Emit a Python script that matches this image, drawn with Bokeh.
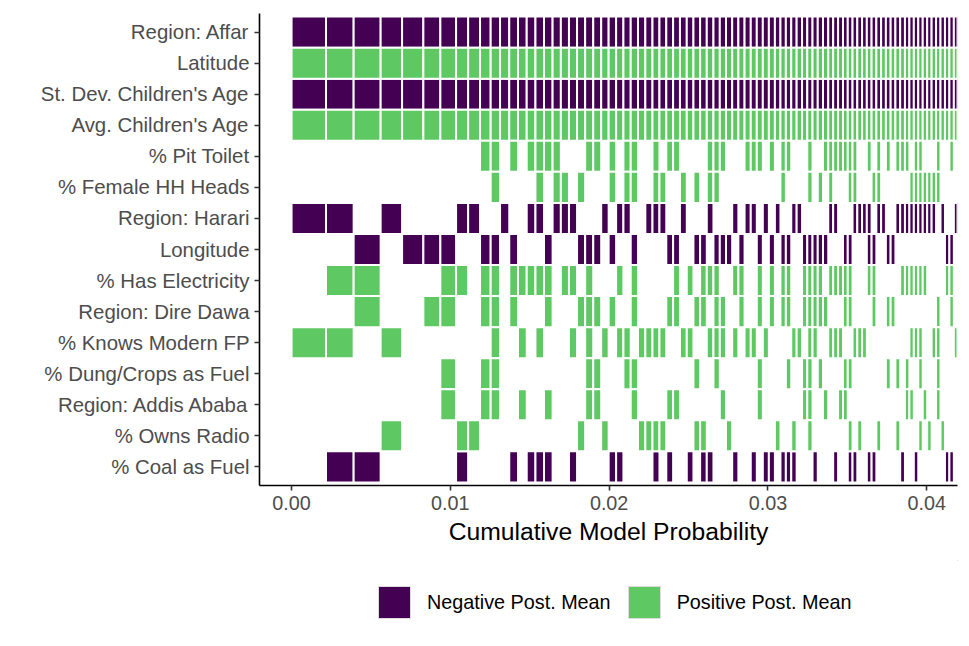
import numpy as np
from bokeh.plotting import figure
from bokeh.layouts import column
from bokeh.models import (ColumnDataSource, FactorRange, Range1d, FixedTicker,
                          NumeralTickFormatter, Legend, LegendItem)
from bokeh.embed import file_html
from bokeh.resources import INLINE

# ---------------- data ----------------
variables = ["Region: Affar", "Latitude", "St. Dev. Children's Age", "Avg. Children's Age",
             "% Pit Toilet", "% Female HH Heads", "Region: Harari", "Longitude",
             "% Has Electricity", "Region: Dire Dawa", "% Knows Modern FP",
             "% Dung/Crops as Fuel", "Region: Addis Ababa", "% Owns Radio", "% Coal as Fuel"]
post_mean_sign = [-1, 1, -1, 1, 1, 1, -1, -1, 1, 1, 1, 1, 1, 1, -1]

# posterior model probabilities, best model first
model_prob = [0.00217, 0.00174, 0.00170, 0.00135, 0.00134, 0.00107, 0.00099, 0.00076,
              0.00075, 0.00067, 0.00059, 0.00058,
              0.00055, 0.00055, 0.00055, 0.00054, 0.00054,
              0.00052, 0.00051, 0.00051, 0.00051, 0.00051, 0.00050,
              0.00047, 0.00047, 0.00046, 0.00046, 0.00046, 0.00046, 0.00045,
              0.00044, 0.00043, 0.00043, 0.00043, 0.00043, 0.00042, 0.00042, 0.00042, 0.00042,
              0.00040, 0.00039, 0.00039, 0.00039, 0.00039, 0.00039, 0.00038, 0.00038, 0.00038, 0.00038,
              0.00035, 0.00034, 0.00034, 0.00034, 0.00034, 0.00033, 0.00033, 0.00033, 0.00033, 0.00033,
              0.00031, 0.00031, 0.00031, 0.00030, 0.00030, 0.00030, 0.00030, 0.00030,
              0.00030, 0.00030, 0.00030, 0.00030, 0.00030, 0.00030, 0.00030, 0.00030,
              0.00028, 0.00028, 0.00028, 0.00028, 0.00028, 0.00028, 0.00028, 0.00028,
              0.00028, 0.00028, 0.00028, 0.00028]

# variables in every model
always_included = ["Region: Affar", "Latitude", "St. Dev. Children's Age", "Avg. Children's Age"]

# model numbers (1 = best) that include each remaining variable
incl_pit_toilet = [10, 11, 13, 15, 16, 17, 18, 22, 23, 25, 27, 28, 31, 33, 34, 39, 40, 41, 45, 46,
                   47, 49, 51, 52, 56, 59, 60, 61, 62, 63, 64, 65, 68, 70, 72, 74, 75, 76, 78, 79,
                   83, 86]
incl_female_hh = [11, 16, 18, 19, 21, 25, 27, 28, 31, 32, 35, 37, 39, 40, 51, 56, 58, 60, 64, 65,
                  69, 70, 77, 78, 79, 80, 81, 82, 83]
incl_harari = [1, 2, 4, 8, 9, 12, 15, 16, 18, 19, 20, 24, 26, 27, 30, 31, 32, 35, 39, 43, 45, 46,
               48, 50, 53, 54, 60, 61, 65, 66, 67, 68, 70, 71, 74, 75, 76, 77, 78, 79, 80, 81, 82,
               84, 87]
incl_longitude = [3, 5, 6, 7, 10, 11, 13, 17, 21, 22, 23, 25, 28, 33, 34, 37, 38, 40, 41, 42, 44,
                  47, 49, 51, 52, 55, 56, 57, 58, 59, 63, 64, 68, 69, 72, 73, 85, 86]
incl_electricity = [2, 3, 7, 8, 10, 11, 13, 14, 15, 16, 17, 19, 20, 22, 26, 28, 34, 36, 38, 39, 40,
                    43, 44, 47, 49, 51, 52, 55, 56, 57, 58, 60, 61, 62, 63, 64, 68, 69, 75, 76, 77,
                    78, 79, 80, 85, 86]
incl_dire_dawa = [3, 6, 7, 10, 11, 13, 17, 21, 22, 23, 25, 28, 33, 34, 37, 38, 40, 41, 44, 47, 49,
                  51, 52, 55, 56, 57, 58, 59, 63, 64, 69, 72, 73, 83, 86]
incl_modern_fp = [1, 2, 4, 11, 14, 16, 20, 22, 24, 26, 27, 29, 30, 31, 32, 35, 36, 39, 40, 41, 43,
                  45, 46, 48, 53, 54, 56, 57, 60, 61, 62, 65, 66, 67, 77, 78, 79, 82, 83, 87]
incl_dung_fuel = [7, 10, 11, 22, 23, 27, 28, 37, 40, 47, 52, 55, 56, 58, 63, 64, 72, 74, 76, 79, 83]
incl_addis = [7, 10, 11, 14, 17, 22, 23, 28, 33, 34, 41, 47, 55, 56, 59, 62, 63, 76, 77, 80, 83]
incl_radio = [4, 8, 9, 21, 24, 29, 30, 31, 32, 37, 38, 42, 50, 53, 56, 64, 66, 70, 74, 79, 81, 84]
incl_coal = [2, 3, 8, 13, 15, 16, 17, 20, 25, 26, 31, 33, 36, 38, 39, 43, 46, 48, 49, 51, 52, 53,
             57, 61, 64, 65, 68, 69, 75, 78, 85, 86]

legend_labels = ["Negative Post. Mean", "Positive Post. Mean"]

# ---------------- build cells ----------------
n_models = len(model_prob)
inclusion = {v: list(range(1, n_models + 1)) for v in always_included}
inclusion.update({
    "% Pit Toilet": incl_pit_toilet,
    "% Female HH Heads": incl_female_hh,
    "Region: Harari": incl_harari,
    "Longitude": incl_longitude,
    "% Has Electricity": incl_electricity,
    "Region: Dire Dawa": incl_dire_dawa,
    "% Knows Modern FP": incl_modern_fp,
    "% Dung/Crops as Fuel": incl_dung_fuel,
    "Region: Addis Ababa": incl_addis,
    "% Owns Radio": incl_radio,
    "% Coal as Fuel": incl_coal,
})

probs = np.array(model_prob)
right_edge = np.cumsum(probs)
left_edge = right_edge - probs

neg = dict(y=[], left=[], right=[])
pos = dict(y=[], left=[], right=[])
for var, sign in zip(variables, post_mean_sign):
    d = neg if sign < 0 else pos
    for m in inclusion[var]:
        d["y"].append(var)
        d["left"].append(float(left_edge[m - 1]))
        d["right"].append(float(right_edge[m - 1]))

NEG_COLOR = "#440154"
POS_COLOR = "#5ec962"
FONT = "Liberation Sans"

p = figure(width=969, height=560,
           y_range=FactorRange(factors=variables[::-1], range_padding=0.1,
                               range_padding_units="absolute"),
           x_range=Range1d(-0.00202, 0.04194),
           output_backend="svg", toolbar_location=None,
           min_border_left=259, min_border_right=12, min_border_top=13, min_border_bottom=75)

p.hbar(y="y", left="left", right="right", height=1.0, source=ColumnDataSource(neg),
       fill_color=NEG_COLOR, line_color="white", line_width=2)
p.hbar(y="y", left="left", right="right", height=1.0, source=ColumnDataSource(pos),
       fill_color=POS_COLOR, line_color="white", line_width=2)

p.xgrid.visible = False
p.ygrid.visible = False
p.outline_line_color = None
p.background_fill_color = "white"

p.xaxis.ticker = FixedTicker(ticks=[0.0, 0.01, 0.02, 0.03, 0.04])
p.xaxis.formatter = NumeralTickFormatter(format="0.00")
p.xaxis.axis_label = "Cumulative Model Probability"
p.xaxis.axis_label_text_font = FONT
p.xaxis.axis_label_text_font_size = "24.7px"
p.xaxis.axis_label_text_font_style = "normal"
p.xaxis.axis_label_text_color = "black"
p.xaxis.axis_label_standoff = 5
p.xaxis.minor_tick_line_color = None

for ax in (p.xaxis, p.yaxis):
    ax.axis_line_color = "black"
    ax.axis_line_width = 1.6
    ax.major_tick_line_color = "#333333"
    ax.major_tick_line_width = 1.6
    ax.major_tick_out = 5
    ax.major_tick_in = 0
    ax.major_label_text_font = FONT
    ax.major_label_text_color = "#4d4d4d"
    ax.major_label_standoff = 5

p.xaxis.major_label_text_font_size = "19.8px"
p.yaxis.major_label_text_font_size = "20.4px"

# ---------------- legend strip below the plot ----------------
lg = figure(width=969, height=86, x_range=Range1d(0, 1), y_range=Range1d(0, 1),
            x_axis_type=None, y_axis_type=None,
            output_backend="svg", toolbar_location=None,
            min_border_left=0, min_border_right=0, min_border_top=0, min_border_bottom=0)
lg.grid.visible = False
lg.outline_line_color = None
# legend keys only: a single cell kept outside the strip's visible range
key = dict(y=[5.0], left=[5.0], right=[6.0])
k_neg = lg.hbar(y="y", left="left", right="right", height=1.0, source=ColumnDataSource(key),
                fill_color=NEG_COLOR, line_color="#dddddd", line_width=1)
k_pos = lg.hbar(y="y", left="left", right="right", height=1.0, source=ColumnDataSource(dict(key)),
                fill_color=POS_COLOR, line_color="#dddddd", line_width=1)

# the strip's frame is aligned with the main plot's frame by the column layout
legend = Legend(items=[LegendItem(label=legend_labels[0], renderers=[k_neg]),
                       LegendItem(label=legend_labels[1], renderers=[k_pos])],
                orientation="horizontal", location=(115, 24),
                glyph_width=40, glyph_height=40, label_height=40,
                label_text_font=FONT, label_text_font_size="19.8px",
                label_text_color="black",
                label_standoff=13, spacing=13, padding=0, margin=0,
                border_line_color=None, background_fill_alpha=0)
lg.add_layout(legend, "center")

layout = column(p, lg, spacing=0)
open("out.html", "w").write(file_html(layout, INLINE))
